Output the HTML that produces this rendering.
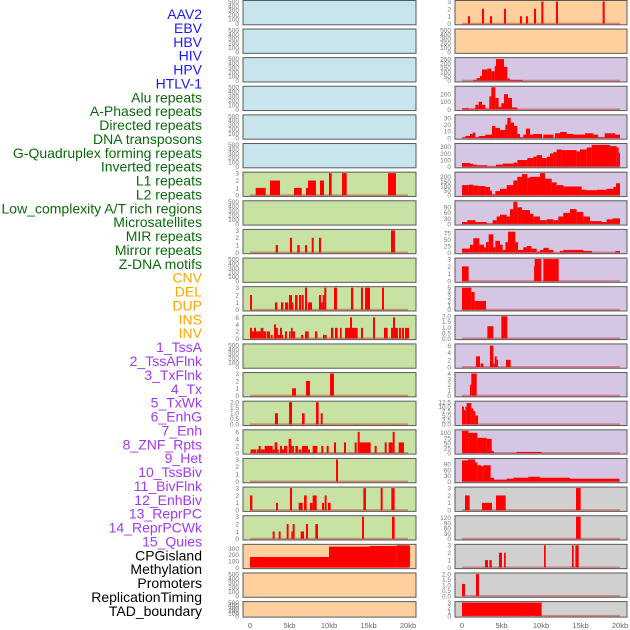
<!DOCTYPE html>
<html><head><meta charset="utf-8"><style>
html,body{margin:0;padding:0;background:#fff;width:630px;height:630px;overflow:hidden}
svg{display:block}
</style></head><body>
<svg id="chart" width="630" height="630" xmlns="http://www.w3.org/2000/svg" font-family="Liberation Sans, sans-serif"></svg>
<script>
// ---- labels ----
const labels = ["AAV2","EBV","HBV","HIV","HPV","HTLV-1","Alu repeats","A-Phased repeats","Directed repeats","DNA transposons","G-Quadruplex forming repeats","Inverted repeats","L1 repeats","L2 repeats","Low_complexity A/T rich regions","Microsatellites","MIR repeats","Mirror repeats","Z-DNA motifs","CNV","DEL","DUP","INS","INV","1_TssA","2_TssAFlnk","3_TxFlnk","4_Tx","5_TxWk","6_EnhG","7_Enh","8_ZNF_Rpts","9_Het","10_TssBiv","11_BivFlnk","12_EnhBiv","13_ReprPC","14_ReprPCWk","15_Quies","CPGisland","Methylation","Promoters","ReplicationTiming","TAD_boundary"];
const labelGroups = [6,13,5,15,5];
const groupColors = ["#1a1aff","#0a6a0a","#ffa500","#a238f0","#000000"];
const xTickLabels = ["0","5kb","10kb","15kb","20kb"];
const xTickValues = [0,5,10,15,20];

// ---- panel ticks ----
const T500=["0","100","200","300","400","500"], T3=["0","1","2","3"], T6=["0","2","4","6"], T2=["0.0","0.5","1.0","1.5","2.0"];
const leftBg = ["b","b","b","b","b","b","g","g","g","g","g","g","g","g","g","g","g","g","g","o","o","o"];
const rightBg = ["o","o","p","p","p","p","p","p","p","p","p","p","p","p","p","p","p","g2","g2","g2","g2","g2"];
const leftMax = [500,500,500,500,500,500,3,500,3,500,3,6.3,500,3,2,6.3,3,3,3,350,500,500];
const rightMax = [3,500,255,290,33,335,240,120,85,3,5,2,6.2,4,12.5,110,115,3,125,3,2,3];
const leftTicks = [T500,T500,T500,T500,T500,T500,T3,T500,T3,T500,T3,T6,T500,T3,T2,T6,T3,T3,T3,["0","100","200","300"],T500,T500];
const rightTicks = [T3,T500,["0","50","100","150","200","250"],["0","100","200"],["0","10","20","30"],["0","100","200","300"],["0","50","100","150","200"],["0","30","60","90"],["0","25","50","75"],T3,["0","1","2","3","4","5"],T2,T6,["0","1","2","3","4"],["0.0","2.5","5.0","7.5","10.0","12.5"],["0","25","50","75","100"],["0","30","60","90"],T3,["0","30","60","90","120"],T3,T2,T3];

// ---- bar data: [startKb, endKb, value] ----
const L6=[[0.72,1.99,1],[2.53,3.8,2],[5.57,6.54,1],[7.09,7.34,1],[7.34,8.35,2],[8.86,9.37,2],[10.0,10.34,3],[11.65,12.24,3],[17.47,18.48,3]];
const L8=[[3.25,3.54,1],[5.06,5.32,2],[5.99,6.29,1],[6.96,7.22,1],[7.81,8.06,2],[8.73,8.99,2],[17.85,18.35,3]];
const L10=[[0,0.25,2],[3.16,3.46,1],[3.92,4.22,1],[4.43,4.85,1],[4.94,5.32,2],[5.32,5.5,1],[5.7,6.03,2],[6.2,6.46,2],[6.54,6.8,2],[6.96,7.22,3],[7.34,7.85,1],[8.73,8.99,2],[8.99,9.2,1],[9.2,9.41,2],[9.41,9.66,3],[10.63,11.01,3],[12.78,13.08,3],[14.05,14.3,3],[14.56,15.19,3],[16.71,16.96,3]];
const L11=[[0,0.25,3],[0.25,0.51,2],[0.51,0.76,3],[0.76,0.97,2],[0.97,1.35,2],[1.35,1.69,3],[1.69,2.03,2],[2.11,2.53,2],[2.62,2.87,1],[3.04,3.29,4],[3.29,3.54,3],[3.54,3.8,1],[3.8,4.05,3],[4.05,4.22,1],[4.43,4.68,2],[4.94,5.15,2],[5.19,5.4,3],[5.4,5.7,2],[6.46,6.75,1],[6.96,7.43,2],[8.23,8.52,2],[9.24,9.7,1],[10.25,10.55,3],[10.76,11.1,3],[11.39,11.6,3],[12.03,12.66,3],[12.66,12.91,6],[12.91,13.63,3],[14.05,14.3,3],[15.57,15.82,6],[16.96,17.43,3],[17.85,18.1,3],[18.1,18.35,6],[18.35,18.73,3],[18.86,19.11,3],[19.24,19.49,3],[19.62,20.13,3]];
const L13=[[5.32,5.82,1],[7.09,7.59,2],[10.13,10.63,3]];
const L14=[[3.16,3.54,1],[4.94,5.32,2],[6.58,6.92,1],[8.35,8.69,2],[8.95,9.2,1]];
const L15=[[0.08,0.76,1],[0.84,1.1,1],[1.1,1.35,2],[1.35,1.86,1],[1.86,2.53,2],[2.53,2.87,2],[2.87,3.12,1],[3.12,3.46,3],[3.46,3.63,1],[3.8,4.05,2],[4.05,4.3,1],[4.3,4.73,2],[4.89,5.23,4],[5.23,5.57,2],[5.74,6.08,2],[6.16,6.5,1],[6.58,7.34,2],[7.34,7.59,1],[7.93,8.52,2],[9.03,9.28,2],[9.7,9.96,2],[10.63,10.89,3],[11.9,12.15,3],[13.25,13.5,3],[13.63,13.88,6],[13.88,15.27,3],[15.78,16.03,2],[17.05,17.3,3],[17.55,18.06,3],[18.06,18.31,6],[18.82,19.49,3]];
const L16=[[10.89,11.14,3]];
const L17=[[0,0.3,2],[3.29,3.54,1],[5.06,5.32,3],[6.16,6.67,1],[6.84,7.17,2],[7.59,7.93,1],[7.93,8.44,2],[9.11,9.37,1],[9.45,9.7,2],[9.87,10.21,1],[14.35,14.68,3],[16.54,16.79,3],[17.89,18.31,3]];
const L18=[[2.87,3.12,1],[3.63,3.88,1],[4.64,4.89,2],[5.23,5.4,1],[5.4,5.65,2],[6.41,6.84,1],[7.09,7.34,2],[8.27,8.61,2],[14.18,14.43,3],[17.97,18.31,3]];
const L19=[[0,10.0,165],[10.0,15.19,330],[15.19,18.57,340],[18.57,20.25,350]];
const R0=[[0.76,1.01,1],[2.53,2.78,2],[3.54,3.8,1],[5.32,5.57,2],[7.34,7.59,1],[8.1,8.35,1],[9.11,9.37,2],[10.04,10.3,3],[11.9,12.15,3],[17.8,18.06,3]];
const R2=[[1.43,1.86,10],[1.86,2.28,30],[2.28,2.53,55],[2.53,3.21,130],[3.21,3.71,140],[3.71,4.14,110],[4.14,4.3,170],[4.3,5.32,250],[5.32,5.74,160],[5.74,6.08,25],[6.08,7.34,10],[7.34,7.68,10]];
const R3=[[0,0.93,15],[1.01,1.69,10],[1.69,2.11,60],[2.11,2.53,100],[2.53,2.95,60],[2.95,3.46,10],[3.46,3.71,170],[3.71,4.22,290],[4.22,4.64,150],[4.64,4.98,30],[4.98,5.32,80],[5.32,5.82,200],[5.82,6.33,150],[6.33,7.0,25]];
const R4=[[0,0.42,1],[0.42,1.01,3],[1.01,1.35,6],[1.35,1.69,8],[1.69,2.11,1],[2.11,2.95,3],[2.95,3.8,5],[3.8,4.22,18],[4.22,4.81,15],[4.81,5.49,12],[5.49,5.74,20],[5.74,6.16,30],[6.16,6.58,23],[6.58,7.0,18],[7.0,7.34,6],[7.34,7.76,1],[7.76,8.1,5],[8.1,8.61,14],[8.61,9.03,5],[9.03,10.13,6],[10.3,11.56,5],[11.77,12.41,7],[12.41,13.25,9],[13.25,14.09,6],[14.09,15.57,5],[15.57,16.62,7],[16.62,17.22,5],[17.22,18.06,1],[18.06,19.37,7],[19.37,20,5]];
const R5=[[0,1.01,55],[1.01,1.43,45],[1.43,1.86,30],[1.86,3.21,20],[3.21,4.3,5],[4.3,5.15,30],[5.15,6.5,45],[6.5,7.0,60],[7.0,8.27,100],[8.27,9.03,130],[9.03,9.45,150],[9.45,10.13,175],[10.13,10.72,130],[10.72,11.14,150],[11.14,11.56,200],[11.56,11.98,220],[11.98,12.62,260],[12.62,14.51,250],[14.51,14.94,230],[14.94,15.78,260],[15.78,16.41,290],[16.41,17.47,330],[17.47,18.73,330],[18.73,19.58,310],[19.58,19.83,290],[19.83,20,210]];
const R6=[[0,0.84,110],[0.84,1.43,115],[1.43,2.11,105],[2.11,2.95,100],[2.95,3.54,90],[3.54,3.8,50],[3.8,4.22,10],[4.22,4.81,45],[4.81,5.65,70],[5.65,6.5,110],[6.5,7.0,160],[7.0,7.59,200],[7.59,8.27,230],[8.27,8.61,190],[8.61,9.87,200],[9.87,10.51,240],[10.51,11.35,180],[11.35,11.98,140],[11.98,12.83,110],[12.83,15.15,95],[15.15,15.78,60],[15.78,17.05,55],[17.05,18.31,60],[18.31,19.16,70],[19.16,19.49,90],[19.49,20,130]];
const R7=[[0,0.68,10],[0.68,1.69,20],[1.69,3.12,10],[3.12,3.88,2],[3.88,4.39,20],[4.39,4.81,40],[4.81,5.65,50],[5.65,6.08,40],[6.08,6.5,80],[6.5,7.0,120],[7.0,7.59,90],[7.59,8.61,75],[8.61,9.03,55],[9.03,9.87,40],[9.87,10.72,20],[10.72,11.56,25],[11.56,12.19,20],[12.19,12.83,40],[12.83,13.67,60],[13.67,14.51,80],[14.51,15.36,65],[15.36,16.2,40],[16.2,17.68,15],[17.68,18.31,10],[18.31,19.07,25],[19.07,20,30]];
const R8=[[0,1.01,15],[1.01,1.43,30],[1.43,2.19,55],[2.19,2.78,30],[2.78,3.04,20],[3.04,3.38,40],[3.38,3.97,70],[3.97,4.22,20],[4.22,4.81,45],[4.81,5.15,30],[5.15,5.49,10],[5.49,5.82,40],[5.82,6.75,80],[6.75,7.09,40],[7.09,7.76,10],[7.76,8.19,20],[8.19,8.78,25],[8.78,9.45,15],[9.45,9.87,3],[9.87,10.3,10],[10.3,10.97,18],[10.97,11.56,10],[12.41,12.83,6],[12.83,13.42,10],[13.42,15.36,10],[15.36,16.46,6],[19.41,20,6]];
const R9=[[0,0.84,2],[9.1,9.2,2],[9.2,10.04,3],[10.3,12.24,3]];
const R10=[[0,1.18,5],[1.18,1.6,4],[1.6,3.04,2]];
const R11=[[3.21,3.97,1.1],[4.98,5.74,2]];
const R12=[[1.77,2.28,3],[2.36,2.7,1],[3.54,3.97,6],[3.97,4.14,1],[4.14,4.39,3],[4.39,4.56,2],[5.57,6.16,2]];
const R13=[[1.01,1.18,2],[1.18,1.86,4]];
const R14=[[0,0.25,10],[0.25,0.42,8],[0.42,0.59,10],[0.59,1.18,12],[1.18,1.43,9],[1.43,1.69,7.5],[1.69,2.03,5]];
const R15=[[0,0.84,110],[0.84,1.94,100],[1.94,3.12,75],[3.12,3.76,70],[3.76,4.05,10],[6.92,10.08,5]];
const R16=[[0,0.76,110],[0.76,1.65,115],[1.65,1.94,100],[1.94,2.41,85],[2.41,2.7,80],[2.7,3.63,85],[3.63,4.05,20],[4.05,5.65,10],[5.65,6.5,15],[6.5,8.4,20],[8.4,9.87,25],[9.87,13.67,20],[13.67,19.92,15]];
const R17=[[0.38,0.97,2],[2.53,3.8,1],[4.3,5.53,2],[14.43,15.02,3]];
const R18=[[14.43,15.02,125]];
const R19=[[2.91,3.29,1],[3.46,3.76,1],[4.68,5.06,2],[5.32,5.53,2],[10.38,10.59,3],[13.92,14.14,3],[14.35,14.77,3]];
const R20=[[0,0.38,1.1],[1.77,2.15,2]];
const R21=[[0,10.08,3]];
const E=[];
const leftBars=[E,E,E,E,E,E,L6,E,L8,E,L10,L11,E,L13,L14,L15,L16,L17,L18,L19,E,E];
const rightBars=[R0,E,R2,R3,R4,R5,R6,R7,R8,R9,R10,R11,R12,R13,R14,R15,R16,R17,R18,R19,R20,R21];

// ---- drawing ----
const svg=document.getElementById('chart');
const NS="http://www.w3.org/2000/svg";
const bgColors={b:"#c8e4ec",g:"#c8e2a4",o:"#ffd09e",p:"#d5c6e3",g2:"#d0d0d0"};
function mk(tag,attrs,parent){const e=document.createElementNS(NS,tag);for(const k in attrs)e.setAttribute(k,attrs[k]);(parent||svg).appendChild(e);return e;}

// labels
let li=0;
labelGroups.forEach((n,g)=>{for(let k=0;k<n;k++){
  const t=mk('text',{x:202,y:14+li*13.88+5,'text-anchor':'end','font-size':'14',fill:groupColors[g]});
  t.textContent=labels[li];
  
  
  li++;}});

const cols=[{x0:243,x1:416,z:250,bg:leftBg,max:leftMax,ticks:leftTicks,bars:leftBars,name:'left'},
            {x0:455,x1:627,z:462,bg:rightBg,max:rightMax,ticks:rightTicks,bars:rightBars,name:'right'}];
const kbPx=7.9;
cols.forEach(c=>{
  const xs=kb=>c.z+kb*kbPx;
  for(let i=0;i<22;i++){
    const top=i===0?0.5:29+(i-1)*28.63;
    const h=i===21?15.5:24.3;
    const bottom=top+h;
    const g=mk('g',{});
    
    
    mk('rect',{x:c.x0,y:top,width:c.x1-c.x0,height:h,fill:bgColors[c.bg[i]],stroke:'#5a5a5a','stroke-width':1},g);
    const ys=v=>bottom-1.2-(v/c.max[i])*(h-2.2);
    const bars=c.bars[i];
    if(bars.length){
      mk('rect',{x:xs(0),y:bottom-2.2,width:xs(20)-xs(0),height:1.8,fill:'rgba(190,0,0,0.35)'},g);
    }
    bars.forEach(b=>{
      const r=mk('rect',{x:xs(b[0]),y:ys(b[2]),width:Math.max(0.8,xs(b[1])-xs(b[0])),height:ys(0)-ys(b[2]),fill:'#ff0000'},g);
      
      
    });
    const tk=c.ticks[i];
    tk.forEach(lbl=>{
      const v=parseFloat(lbl);
      const t=mk('text',{x:c.x0-4,y:ys(v)+2.4,'text-anchor':'end','font-size':'6.5',fill:'#777'},g);
      t.textContent=lbl;
      
      
    });
  }
  xTickValues.forEach((v,k)=>{
    const t=mk('text',{x:xs(v),y:628,'text-anchor':'middle','font-size':'7.5',fill:'#666'});
    t.textContent=xTickLabels[k];
    
    
  });
});
</script>
</body></html>
